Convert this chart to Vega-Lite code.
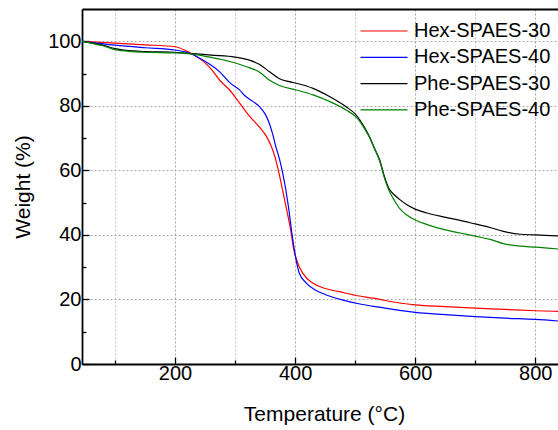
{
  "$schema": "https://vega.github.io/schema/vega-lite/v6.json",
  "width": 476,
  "height": 355,
  "autosize": {"type": "none"},
  "padding": {"left": 82, "top": 9, "right": 0, "bottom": 66},
  "config": {
    "font": "Liberation Sans",
    "view": {"stroke": null},
    "axis": {"labelColor": "#000", "titleColor": "#000", "labelFont": "Liberation Sans", "titleFont": "Liberation Sans", "titleFontWeight": "normal"}
  },
  "data": {"values": [
    {"s":"Hex-SPAES-30","T":45,"W":100},{"s":"Hex-SPAES-30","T":100,"W":99.4},{"s":"Hex-SPAES-30","T":150,"W":98.9},{"s":"Hex-SPAES-30","T":200,"W":98.3},{"s":"Hex-SPAES-30","T":224,"W":96.5},{"s":"Hex-SPAES-30","T":250,"W":93.3},{"s":"Hex-SPAES-30","T":262,"W":91.0},{"s":"Hex-SPAES-30","T":274,"W":88.0},{"s":"Hex-SPAES-30","T":291,"W":84.9},{"s":"Hex-SPAES-30","T":307,"W":81.0},{"s":"Hex-SPAES-30","T":324,"W":76.8},{"s":"Hex-SPAES-30","T":341,"W":73.3},{"s":"Hex-SPAES-30","T":352,"W":70.6},{"s":"Hex-SPAES-30","T":360,"W":67.6},{"s":"Hex-SPAES-30","T":367,"W":63.8},{"s":"Hex-SPAES-30","T":373,"W":59.3},{"s":"Hex-SPAES-30","T":379,"W":54.0},{"s":"Hex-SPAES-30","T":385,"W":48.7},{"s":"Hex-SPAES-30","T":394,"W":40.0},{"s":"Hex-SPAES-30","T":397,"W":36.3},{"s":"Hex-SPAES-30","T":405,"W":31.0},{"s":"Hex-SPAES-30","T":413,"W":28.1},{"s":"Hex-SPAES-30","T":430,"W":25.0},{"s":"Hex-SPAES-30","T":450,"W":23.4},{"s":"Hex-SPAES-30","T":474,"W":22.4},{"s":"Hex-SPAES-30","T":500,"W":21.3},{"s":"Hex-SPAES-30","T":530,"W":20.4},{"s":"Hex-SPAES-30","T":574,"W":18.9},{"s":"Hex-SPAES-30","T":600,"W":18.3},{"s":"Hex-SPAES-30","T":650,"W":17.8},{"s":"Hex-SPAES-30","T":700,"W":17.3},{"s":"Hex-SPAES-30","T":750,"W":16.9},{"s":"Hex-SPAES-30","T":800,"W":16.5},{"s":"Hex-SPAES-30","T":840,"W":16.3},
    {"s":"Hex-SPAES-40","T":45,"W":100},{"s":"Hex-SPAES-40","T":100,"W":98.8},{"s":"Hex-SPAES-40","T":150,"W":98.0},{"s":"Hex-SPAES-40","T":200,"W":97.3},{"s":"Hex-SPAES-40","T":224,"W":96.3},{"s":"Hex-SPAES-40","T":250,"W":93.8},{"s":"Hex-SPAES-40","T":274,"W":90.6},{"s":"Hex-SPAES-40","T":291,"W":87.2},{"s":"Hex-SPAES-40","T":307,"W":85.0},{"s":"Hex-SPAES-40","T":316,"W":83.2},{"s":"Hex-SPAES-40","T":330,"W":81.3},{"s":"Hex-SPAES-40","T":341,"W":79.7},{"s":"Hex-SPAES-40","T":350,"W":77.5},{"s":"Hex-SPAES-40","T":357,"W":74.6},{"s":"Hex-SPAES-40","T":363,"W":71.0},{"s":"Hex-SPAES-40","T":368,"W":67.3},{"s":"Hex-SPAES-40","T":374,"W":63.5},{"s":"Hex-SPAES-40","T":379,"W":59.5},{"s":"Hex-SPAES-40","T":389,"W":48.7},{"s":"Hex-SPAES-40","T":395,"W":40.0},{"s":"Hex-SPAES-40","T":398,"W":36.3},{"s":"Hex-SPAES-40","T":403,"W":31.0},{"s":"Hex-SPAES-40","T":407,"W":28.1},{"s":"Hex-SPAES-40","T":419,"W":25.0},{"s":"Hex-SPAES-40","T":435,"W":22.8},{"s":"Hex-SPAES-40","T":452,"W":21.4},{"s":"Hex-SPAES-40","T":480,"W":19.8},{"s":"Hex-SPAES-40","T":508,"W":18.6},{"s":"Hex-SPAES-40","T":540,"W":17.6},{"s":"Hex-SPAES-40","T":574,"W":16.6},{"s":"Hex-SPAES-40","T":600,"W":16.0},{"s":"Hex-SPAES-40","T":650,"W":15.3},{"s":"Hex-SPAES-40","T":700,"W":14.7},{"s":"Hex-SPAES-40","T":750,"W":14.2},{"s":"Hex-SPAES-40","T":800,"W":13.8},{"s":"Hex-SPAES-40","T":840,"W":13.3},
    {"s":"Phe-SPAES-30","T":45,"W":100},{"s":"Phe-SPAES-30","T":80,"W":98.8},{"s":"Phe-SPAES-30","T":100,"W":97.7},{"s":"Phe-SPAES-30","T":130,"W":97.0},{"s":"Phe-SPAES-30","T":150,"W":96.8},{"s":"Phe-SPAES-30","T":200,"W":96.6},{"s":"Phe-SPAES-30","T":230,"W":96.2},{"s":"Phe-SPAES-30","T":260,"W":95.7},{"s":"Phe-SPAES-30","T":300,"W":95.1},{"s":"Phe-SPAES-30","T":325,"W":94.1},{"s":"Phe-SPAES-30","T":341,"W":92.8},{"s":"Phe-SPAES-30","T":357,"W":90.6},{"s":"Phe-SPAES-30","T":374,"W":88.4},{"s":"Phe-SPAES-30","T":390,"W":87.5},{"s":"Phe-SPAES-30","T":402,"W":87.0},{"s":"Phe-SPAES-30","T":430,"W":85.4},{"s":"Phe-SPAES-30","T":458,"W":82.8},{"s":"Phe-SPAES-30","T":485,"W":79.7},{"s":"Phe-SPAES-30","T":500,"W":77.5},{"s":"Phe-SPAES-30","T":508,"W":75.6},{"s":"Phe-SPAES-30","T":516,"W":73.2},{"s":"Phe-SPAES-30","T":524,"W":70.4},{"s":"Phe-SPAES-30","T":532,"W":67.0},{"s":"Phe-SPAES-30","T":541,"W":63.2},{"s":"Phe-SPAES-30","T":549,"W":58.0},{"s":"Phe-SPAES-30","T":557,"W":54.2},{"s":"Phe-SPAES-30","T":566,"W":52.3},{"s":"Phe-SPAES-30","T":574,"W":51.0},{"s":"Phe-SPAES-30","T":585,"W":49.5},{"s":"Phe-SPAES-30","T":600,"W":48.0},{"s":"Phe-SPAES-30","T":620,"W":46.8},{"s":"Phe-SPAES-30","T":647,"W":45.6},{"s":"Phe-SPAES-30","T":675,"W":44.5},{"s":"Phe-SPAES-30","T":700,"W":43.4},{"s":"Phe-SPAES-30","T":725,"W":42.3},{"s":"Phe-SPAES-30","T":747,"W":41.1},{"s":"Phe-SPAES-30","T":775,"W":40.2},{"s":"Phe-SPAES-30","T":800,"W":40.0},{"s":"Phe-SPAES-30","T":840,"W":39.7},
    {"s":"Phe-SPAES-40","T":45,"W":100},{"s":"Phe-SPAES-40","T":80,"W":98.6},{"s":"Phe-SPAES-40","T":100,"W":97.4},{"s":"Phe-SPAES-40","T":130,"W":96.8},{"s":"Phe-SPAES-40","T":150,"W":96.6},{"s":"Phe-SPAES-40","T":200,"W":96.4},{"s":"Phe-SPAES-40","T":230,"W":96.0},{"s":"Phe-SPAES-40","T":260,"W":95.0},{"s":"Phe-SPAES-40","T":290,"W":93.8},{"s":"Phe-SPAES-40","T":318,"W":92.2},{"s":"Phe-SPAES-40","T":341,"W":90.4},{"s":"Phe-SPAES-40","T":357,"W":88.0},{"s":"Phe-SPAES-40","T":374,"W":86.3},{"s":"Phe-SPAES-40","T":402,"W":84.9},{"s":"Phe-SPAES-40","T":430,"W":83.4},{"s":"Phe-SPAES-40","T":458,"W":81.3},{"s":"Phe-SPAES-40","T":485,"W":78.7},{"s":"Phe-SPAES-40","T":500,"W":76.8},{"s":"Phe-SPAES-40","T":508,"W":75.1},{"s":"Phe-SPAES-40","T":516,"W":72.8},{"s":"Phe-SPAES-40","T":524,"W":70.2},{"s":"Phe-SPAES-40","T":532,"W":66.8},{"s":"Phe-SPAES-40","T":541,"W":62.8},{"s":"Phe-SPAES-40","T":549,"W":57.5},{"s":"Phe-SPAES-40","T":557,"W":53.5},{"s":"Phe-SPAES-40","T":566,"W":50.5},{"s":"Phe-SPAES-40","T":574,"W":48.2},{"s":"Phe-SPAES-40","T":585,"W":46.3},{"s":"Phe-SPAES-40","T":600,"W":44.6},{"s":"Phe-SPAES-40","T":620,"W":43.2},{"s":"Phe-SPAES-40","T":647,"W":41.7},{"s":"Phe-SPAES-40","T":675,"W":40.6},{"s":"Phe-SPAES-40","T":700,"W":39.6},{"s":"Phe-SPAES-40","T":725,"W":38.6},{"s":"Phe-SPAES-40","T":747,"W":37.3},{"s":"Phe-SPAES-40","T":775,"W":36.5},{"s":"Phe-SPAES-40","T":800,"W":36.2},{"s":"Phe-SPAES-40","T":840,"W":35.6}
  ]},
  "resolve": {"axis": {"x": "independent", "y": "independent"}},
  "layer": [
    {
      "mark": {"type": "line", "opacity": 0},
      "encoding": {
        "x": {"field": "T", "type": "quantitative", "scale": {"domain": [45, 838], "nice": false, "zero": false},
          "axis": {"orient": "bottom", "values": [100, 300, 500, 700], "labels": false, "domain": false, "title": null, "tickSize": -4, "tickColor": "#000", "tickWidth": 1.3, "grid": true, "gridColor": "#c4c4c4", "gridDash": [2, 2], "gridWidth": 1}},
        "y": {"field": "W", "type": "quantitative", "scale": {"domain": [0, 110], "nice": false},
          "axis": {"orient": "left", "values": [10, 30, 50, 70, 90], "labels": false, "domain": false, "title": null, "tickSize": -4, "tickColor": "#000", "tickWidth": 1.3, "grid": false}},
        "detail": {"field": "s"}
      }
    },
    {
      "mark": {"type": "line", "opacity": 0},
      "encoding": {
        "x": {"field": "T", "type": "quantitative",
          "axis": {"orient": "top", "values": [], "labels": false, "ticks": false, "grid": false, "title": null, "domain": true, "domainColor": "#000", "domainWidth": 1.8}},
        "y": {"field": "W", "type": "quantitative", "axis": null},
        "detail": {"field": "s"}
      }
    },
    {
      "mark": {"type": "line", "strokeWidth": 1.2, "clip": true, "interpolate": "monotone"},
      "encoding": {
        "x": {"field": "T", "type": "quantitative",
          "axis": {"orient": "bottom", "values": [200, 400, 600, 800], "title": "Temperature (°C)", "titleFontSize": 21, "titlePadding": 20, "titleX": 242, "labelFontSize": 20, "labelPadding": 6, "tickSize": -7, "tickColor": "#000", "tickWidth": 1.3, "domainColor": "#000", "domainWidth": 1.8, "grid": true, "gridColor": "#a8a8a8", "gridDash": [2, 2], "gridWidth": 1}},
        "y": {"field": "W", "type": "quantitative",
          "axis": {"orient": "left", "values": [0, 20, 40, 60, 80, 100], "title": "Weight (%)", "titleFontSize": 21, "titlePadding": 14, "labelFontSize": 20, "labelPadding": 8, "tickSize": -7, "tickColor": "#000", "tickWidth": 1.3, "domainColor": "#000", "domainWidth": 1.8, "grid": true, "gridColor": "#a8a8a8", "gridDash": [2, 2], "gridWidth": 1}},
        "color": {"field": "s", "type": "nominal",
          "scale": {"domain": ["Hex-SPAES-30", "Hex-SPAES-40", "Phe-SPAES-30", "Phe-SPAES-40"], "range": ["#ff0000", "#0000ff", "#000000", "#008000"]},
          "legend": {"orient": "none", "legendX": 291, "legendY": 11, "title": null, "padding": 0, "symbolType": "M-2.35,0L2.35,0", "symbolSize": 400, "symbolStrokeWidth": 1.2, "symbolFillColor": "transparent", "labelFontSize": 20, "labelColor": "#000", "labelOffset": 19, "rowPadding": 5.3}}
      }
    }
  ]
}
